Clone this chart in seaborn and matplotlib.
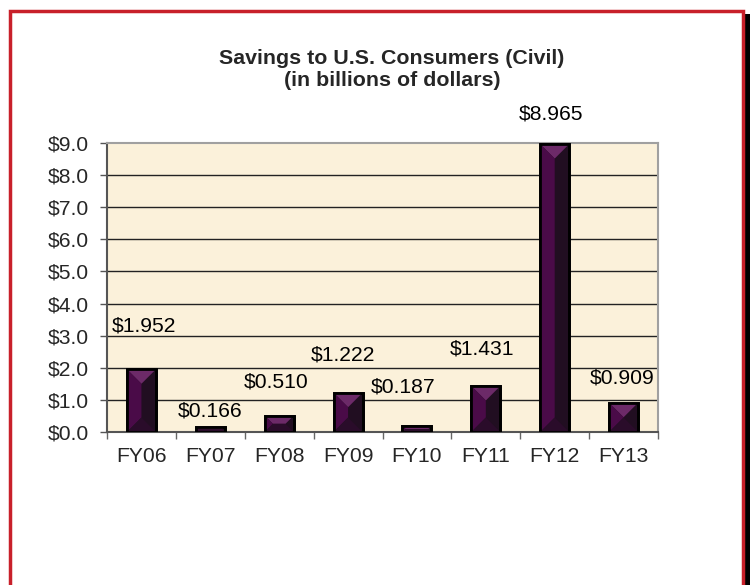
import matplotlib
matplotlib.use('Agg')
import matplotlib.pyplot as plt
from matplotlib.patches import Polygon, Rectangle
import pandas as pd
import seaborn as sns

# Chart data
years = ['FY06', 'FY07', 'FY08', 'FY09', 'FY10', 'FY11', 'FY12', 'FY13']
savings = [1.952, 0.166, 0.510, 1.222, 0.187, 1.431, 8.965, 0.909]
value_labels = ['$1.952', '$0.166', '$0.510', '$1.222', '$0.187', '$1.431', '$8.965', '$0.909']
y_ticks = [0, 1, 2, 3, 4, 5, 6, 7, 8, 9]
y_tick_labels = ['$0.0', '$1.0', '$2.0', '$3.0', '$4.0', '$5.0', '$6.0', '$7.0', '$8.0', '$9.0']

df = pd.DataFrame({'Year': years, 'Savings': savings})

# label nudges in pixels (Excel placed them by hand)
label_nudge = [(3, 43), (0, 16), (-3, 34), (-5, 38), (-14, 39), (-4, 37), (-4, 30), (-1, 25)]

sns.set_style('white')
plt.rcParams['font.family'] = ['Liberation Sans', 'DejaVu Sans']
fs = 15.2

fig = plt.figure(figsize=(7.5, 5.85), dpi=100)
ax = fig.add_axes([107 / 750, 1 - 432 / 585, 551 / 750, 289 / 585])
ax.set_facecolor('#fbf1da')

sns.barplot(x='Year', y='Savings', data=df, ax=ax, color='#210e21',
            width=0.42, edgecolor='black', linewidth=2, saturation=1, zorder=3)

ax.set_ylim(0, 9)
ax.set_xlim(-0.5, len(years) - 0.5)
ax.set_yticks(y_ticks)
ax.set_yticklabels(y_tick_labels, fontsize=fs)
ax.tick_params(axis='y', length=5, width=1, color='#555555', pad=8, direction='out', left=True)
ax.set_xticks(range(len(years)))
ax.set_xticklabels(years, fontsize=fs)
ax.tick_params(axis='x', length=0, pad=11)
ax.set_xticks([i - 0.5 for i in range(len(years) + 1)], minor=True)
ax.tick_params(axis='x', which='minor', length=5, width=1, color='#666666', bottom=True)
ax.set_xlabel('')
ax.set_ylabel('')

for y in y_ticks[1:-1]:
    ax.axhline(y, color='#222222', linewidth=1, zorder=1)

for side in ['top', 'right']:
    ax.spines[side].set_color('#a0a0a0')
    ax.spines[side].set_linewidth(1.5)
for side in ['left', 'bottom']:
    ax.spines[side].set_color('#555555')
    ax.spines[side].set_linewidth(1.5)

# bevel faces on each bar, computed from the bar patches in pixel space
fig.canvas.draw()
to_data = ax.transData.inverted()
for bar in ax.patches:
    x0, y0, x1, y1 = bar.get_window_extent().extents
    w, h = x1 - x0, y1 - y0
    d = min(w, h) / 2
    ix0, ix1, iy0, iy1 = x0 + d, x1 - d, y0 + d, y1 - d
    faces = [
        ([(x0, y1), (x1, y1), (ix1, iy1), (ix0, iy1)], '#6c2a68'),
        ([(x0, y0), (x0, y1), (ix0, iy1), (ix0, iy0)], '#4a0b48'),
        ([(x0, y0), (x1, y0), (ix1, iy0), (ix0, iy0)], '#2a0c2a'),
    ]
    for pts, col in faces:
        ax.add_patch(Polygon(to_data.transform(pts), closed=True, facecolor=col,
                             edgecolor='none', zorder=3.5))
    ax.add_patch(Rectangle((bar.get_x(), bar.get_y()), bar.get_width(), bar.get_height(),
                           fill=False, edgecolor='black', linewidth=2, zorder=4))

for i, (val, txt) in enumerate(zip(savings, value_labels)):
    dx, dy = label_nudge[i]
    ax.annotate(txt, (i, val), xytext=(dx * 0.72, dy * 0.72), textcoords='offset points',
                ha='center', va='center', fontsize=fs, color='black', zorder=5,
                annotation_clip=False)

fig.text(392 / 750, 1 - 59 / 585, 'Savings to U.S. Consumers (Civil)', ha='center', va='center',
         fontsize=15.4, fontweight='bold')
fig.text(392 / 750, 1 - 81 / 585, '(in billions of dollars)', ha='center', va='center',
         fontsize=15.4, fontweight='bold')

# frame with drop shadow
fig.patches.append(Rectangle((745 / 750, 0), 5 / 750, 1 - 14 / 585, transform=fig.transFigure,
                             facecolor='black', edgecolor='none'))
fig.patches.append(Rectangle((9.5 / 750, -0.05), 733 / 750, 1.05 - 11 / 585, transform=fig.transFigure,
                             fill=False, edgecolor='#c8202a', linewidth=2.5))

fig.savefig('out.png', dpi=100)
